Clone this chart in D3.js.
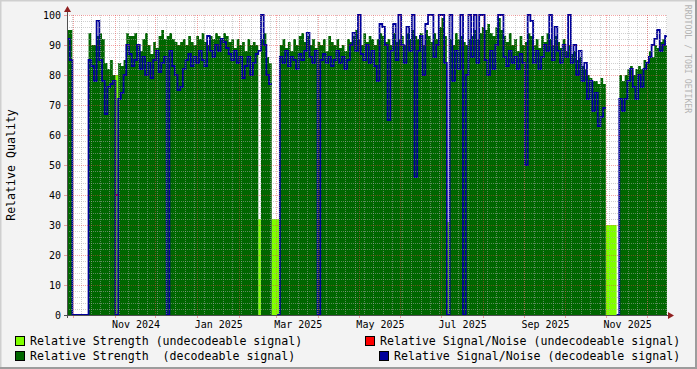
<!DOCTYPE html>
<html><head><meta charset="utf-8">
<script src="https://cdn.jsdelivr.net/npm/d3@7"></script>
<style>body{margin:0;background:#f3f3f3}svg{display:block}text{font-family:"DejaVu Sans Mono",monospace}</style>
</head><body><svg id="c" width="697" height="369"></svg>
<script>
// ---- data: one sample every 2 days starting 2024-09-26 13:00 UTC ----
const startTime = Date.UTC(2024, 8, 26, 13);
const endTime = Date.UTC(2025, 11, 15, 23);
const stepDays = 2;
// Relative Strength (decodeable signal)
const strength = [
95,95,0,0,0,0,0,0,94,90,
90,93,94,92,84,82,85,80,0,84,
83,85,94,93,93,94,90,88,92,94,
90,87,91,89,93,95,92,93,94,92,
91,90,91,92,90,93,91,90,93,92,
94,91,90,93,92,94,93,92,94,93,
91,92,89,92,90,91,88,92,90,91,
90,0,92,94,86,84,0,0,0,90,
92,89,91,88,92,90,93,94,91,93,
90,92,89,91,90,92,88,93,91,90,
92,89,90,88,92,91,93,95,92,90,
94,91,93,92,90,92,94,93,91,92,
90,94,91,92,93,90,94,92,95,93,
92,94,90,95,93,91,94,92,96,99,
93,0,92,90,94,92,93,91,90,92,
93,95,92,94,96,95,97,94,93,96,
99,95,93,91,94,90,92,88,93,90,
91,94,93,90,92,89,93,91,94,92,
90,93,91,89,92,88,90,87,88,85,
86,83,82,80,79,78,78,77,79,77,
0,0,0,0,0,80,78,80,82,83,
80,82,83,82,85,84,88,86,90,89,
91,92,90];
// Relative Signal/Noise (decodeable signal)
const snr = [
92,85,0,0,0,0,0,0,85,83,
78,98,85,78,67,76,77,78,0,72,
74,80,90,87,83,85,90,82,86,80,
84,79,85,88,81,84,86,0,88,83,
80,75,76,82,85,87,83,86,84,88,
85,83,93,88,86,90,88,92,91,89,
87,85,88,84,86,79,83,86,80,84,
87,88,100,90,80,77,null,null,0,86,
84,88,83,86,85,82,87,85,88,94,
86,84,88,0,85,87,84,86,83,85,
88,84,86,82,85,90,94,88,100,87,
85,90,84,88,83,78,97,96,90,65,
88,97,85,100,90,84,96,88,100,46,
88,93,80,97,100,100,86,90,100,100,
84,0,100,78,88,82,100,0,80,100,
86,100,84,100,100,85,80,88,82,90,
100,100,86,83,88,84,86,82,87,84,
50,100,98,84,88,82,86,90,88,100,
85,96,88,84,90,86,100,84,90,80,
88,78,84,72,78,68,74,63,66,69,
null,null,null,null,0,72,68,72,78,82,
76,72,80,76,82,84,86,90,92,95,
88,90,93];
// Relative Strength (undecodeable signal)
const weakStrength = [
0,0,0,0,0,0,0,0,0,0,
0,0,0,0,0,0,0,0,80,0,
0,0,0,0,0,0,0,0,0,0,
0,0,0,0,0,0,0,0,0,0,
0,0,0,0,0,0,0,0,0,0,
0,0,0,0,0,0,0,0,0,0,
0,0,0,0,0,0,0,0,0,0,
0,32,0,0,0,0,32,32,32,0,
0,0,0,0,0,0,0,0,0,0,
0,0,0,0,0,0,0,0,0,0,
0,0,0,0,0,0,0,0,0,0,
0,0,0,0,0,0,0,0,0,0,
0,0,0,0,0,0,0,0,0,0,
0,0,0,0,0,0,0,0,0,0,
0,31,0,0,0,0,0,0,0,0,
0,0,0,0,0,0,0,0,0,0,
0,0,0,0,0,0,0,0,0,0,
0,0,0,0,0,0,0,0,0,0,
0,0,0,0,0,0,0,0,0,0,
0,0,0,0,0,0,0,0,0,0,
30,30,30,30,0,0,0,0,0,0,
0,0,0,0,0,0,0,0,0,0,
0,0,0];
// Relative Signal/Noise (undecodeable signal): [sample index, value]
const weakSnr = [[18, 40]];

const yTicksMajor = [0,10,20,30,40,50,60,70,80,90,100];
const xLabels = ["Nov 2024","Jan 2025","Mar 2025","May 2025","Jul 2025","Sep 2025","Nov 2025"];
const xLabelMonths = [[2024,10],[2025,0],[2025,2],[2025,4],[2025,6],[2025,8],[2025,10]];
const legendLabels = ["Relative Strength (undecodeable signal)","Relative Signal/Noise (undecodeable signal)","Relative Strength  (decodeable signal)","Relative Signal/Noise (decodeable signal)"];
const colors = {weak:"#80ff00", strong:"#006600", weakSnr:"#ff0000", snr:"#000099"};

// ---- drawing ----
const W = 697, H = 369;
const L = 67, R = 667, T = 15, B = 315;
const svg = d3.select("#c");
const x = d3.scaleUtc().domain([new Date(startTime), new Date(endTime)]).range([L, R]);
const y = d3.scaleLinear().domain([0, 100]).range([B, T]);
const stepMs = stepDays * 864e5;

// frame
svg.append("rect").attr("width", W).attr("height", H).attr("fill", "#f3f3f3");
svg.append("path").attr("d", `M0,${H} V0 H${W}`).attr("stroke", "#cfcfcf").attr("stroke-width", 3).attr("fill", "none");
svg.append("path").attr("d", `M0,${H-1} H${W-1} V0`).attr("stroke", "#9c9c9c").attr("stroke-width", 2).attr("fill", "none");
svg.append("rect").attr("x", L).attr("y", T).attr("width", R - L).attr("height", B - T).attr("fill", "#fff");

function stepPts(vals) {
  const pts = [];
  vals.forEach((v, i) => {
    const t0 = new Date(startTime + i * stepMs);
    const t1 = new Date(Math.min(startTime + (i + 1) * stepMs, endTime));
    if (v == null) { pts.push({t: t0, v: null}); return; }
    pts.push({t: t0, v}, {t: t1, v});
  });
  return pts;
}
const area = d3.area().defined(d => d.v != null).x(d => x(d.t)).y0(y(0)).y1(d => y(d.v));
const line = d3.line().defined(d => d.v != null).x(d => x(d.t)).y(d => y(d.v));

const g = svg.append("g");
g.append("path").attr("d", area(stepPts(weakStrength))).attr("fill", colors.weak);
g.append("path").attr("d", area(stepPts(strength))).attr("fill", colors.strong);
const wsArr = strength.map(() => null);
weakSnr.forEach(([i, v]) => wsArr[i] = v);
g.append("path").attr("d", line(stepPts(wsArr))).attr("fill", "none").attr("stroke", colors.weakSnr).attr("stroke-width", 1.8);
g.append("path").attr("d", line(stepPts(snr))).attr("fill", "none").attr("stroke", colors.snr).attr("stroke-width", 1.8);

// grid (drawn over data, like rrdtool)
const grid = svg.append("g").attr("shape-rendering", "crispEdges");
const minorCol = "rgba(170,170,170,0.55)", majorCol = "rgba(230,60,60,0.45)";
d3.range(0, 101, 2).filter(v => v % 10 !== 0).forEach(v => {
  grid.append("line").attr("x1", L).attr("x2", R).attr("y1", y(v) + 0.5).attr("y2", y(v) + 0.5)
    .attr("stroke", minorCol).attr("stroke-dasharray", "1,1");
});
d3.utcMonday.range(x.domain()[0], x.domain()[1]).forEach(t => {
  grid.append("line").attr("x1", Math.round(x(t)) + 0.5).attr("x2", Math.round(x(t)) + 0.5).attr("y1", T).attr("y2", B)
    .attr("stroke", minorCol).attr("stroke-dasharray", "1,1");
});
yTicksMajor.forEach(v => {
  grid.append("line").attr("x1", L).attr("x2", R).attr("y1", y(v) + 0.5).attr("y2", y(v) + 0.5)
    .attr("stroke", majorCol).attr("stroke-dasharray", "1,1");
  grid.append("line").attr("x1", L - 3).attr("x2", L).attr("y1", y(v) + 0.5).attr("y2", y(v) + 0.5).attr("stroke", majorCol);
});
const months = d3.utcMonth.range(x.domain()[0], x.domain()[1]);
months.forEach(t => {
  const px = Math.round(x(t)) + 0.5;
  grid.append("line").attr("x1", px).attr("x2", px).attr("y1", T).attr("y2", B)
    .attr("stroke", majorCol).attr("stroke-dasharray", "1,1");
  grid.append("line").attr("x1", px).attr("x2", px).attr("y1", B).attr("y2", B + 3).attr("stroke", majorCol);
});

// axes
svg.append("line").attr("x1", L - 3).attr("x2", R + 3).attr("y1", B + 0.5).attr("y2", B + 0.5).attr("stroke", "#505050").attr("shape-rendering", "crispEdges");
svg.append("line").attr("x1", L + 0.5).attr("x2", L + 0.5).attr("y1", B + 3).attr("y2", T - 4).attr("stroke", "#505050").attr("shape-rendering", "crispEdges");
svg.append("path").attr("d", `M${R+1},${B-3} L${R+7},${B+0.5} L${R+1},${B+4} Z`).attr("fill", "#902020");
svg.append("path").attr("d", `M${L-3},${T-3} L${L+0.5},${T-9} L${L+4},${T-3} Z`).attr("fill", "#902020");

// labels
yTicksMajor.forEach(v => {
  svg.append("text").attr("x", L - 6).attr("y", y(v)).attr("dy", "0.36em").attr("text-anchor", "end")
    .attr("font-size", 10).attr("fill", "#000").text(v);
});
xLabels.forEach((lab, k) => {
  const [yr, mo] = xLabelMonths[k];
  const a = x(new Date(Date.UTC(yr, mo, 1))), b = x(new Date(Date.UTC(yr, mo + 1, 1)));
  svg.append("text").attr("x", (a + b) / 2 + 1).attr("y", 328).attr("text-anchor", "middle")
    .attr("font-size", 10).attr("fill", "#000").text(lab);
});
svg.append("text").attr("transform", "translate(15,165) rotate(-90)").attr("text-anchor", "middle")
  .attr("font-size", 11.6).attr("fill", "#000").text("Relative Quality");
svg.append("text").attr("transform", "translate(685,59) rotate(90)").attr("text-anchor", "middle")
  .attr("font-size", 8.2).attr("fill", "#b4b4b4").text("RRDTOOL / TOBI OETIKER");

// legend
const legPos = [[15, 336, 30, 345], [365, 336, 380, 345], [15, 351, 30, 359.5], [379, 351, 394, 359.5]];
const legCols = [colors.weak, colors.weakSnr, colors.strong, colors.snr];
legendLabels.forEach((lab, k) => {
  const [bx, by, tx, ty] = legPos[k];
  svg.append("rect").attr("x", bx + 0.5).attr("y", by + 0.5).attr("width", 9).attr("height", 9)
    .attr("fill", legCols[k]).attr("stroke", "#000").attr("stroke-width", 1);
  svg.append("text").attr("x", tx).attr("y", ty).attr("font-size", 11.6).attr("fill", "#000")
    .attr("xml:space", "preserve").style("white-space", "pre").text(lab);
});
</script></body></html>
